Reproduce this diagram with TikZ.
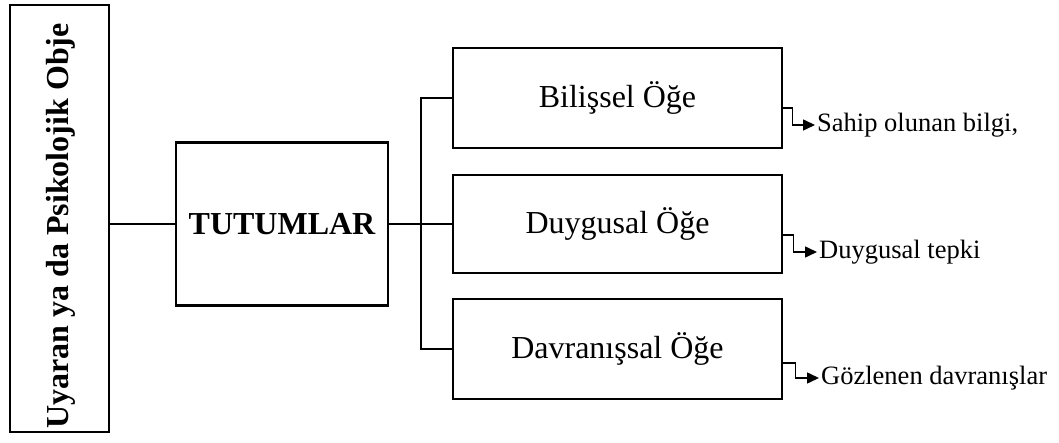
\documentclass[tikz,border=0pt]{standalone}
\usepackage{fontspec}
\setmainfont{Liberation Serif}
\usetikzlibrary{arrows.meta}
\begin{document}
\begin{tikzpicture}[x=1pt,y=-1pt,
  box/.style={draw, line width=2.7pt, rectangle, inner sep=0pt},
  bigtext/.style={font=\fontsize{32}{38}\selectfont},
  bigbold/.style={font=\fontsize{32}{38}\selectfont\bfseries},
  smalltext/.style={font=\fontsize{26.5}{31}\selectfont, anchor=west, inner sep=2pt},
  link/.style={line width=2.7pt},
  pointer/.style={line width=1.5pt, -{Triangle[length=12pt,width=11pt]}}]
\useasboundingbox (0,0) rectangle (1059,443);
% left object box
\node[box, minimum width=99pt, minimum height=427pt] (obj) at (59.5,218.5) {};
\node[bigbold, rotate=90] (objt) at (61,226) {Uyaran ya da Psikolojik Obje};
% TUTUMLAR
\node[box, bigbold, minimum width=212pt, minimum height=163pt] (tut) at (282,224) {TUTUMLAR};
% three component boxes
\node[box, bigtext, minimum width=329pt, minimum height=100pt] (b1) at (617.5,98) {Bilişsel Öğe};
\node[box, bigtext, minimum width=329pt, minimum height=98pt] (b2) at (617.5,224) {Duygusal Öğe};
\node[box, bigtext, minimum width=329pt, minimum height=100pt] (b3) at (617.5,349) {Davranışsal Öğe};
\coordinate (trunk) at (421,0);
% connectors
\draw[link] (tut.west) -- (tut.west -| obj.east);
\draw[link] (tut.east) -- (tut.east -| b2.west);
\draw[link] (b1.west) -- (b1.west -| trunk) -- (b3.west -| trunk) -- (b3.west);
% right labels
\node[smalltext] (t1) at (815,125) {Sahip olunan bilgi,};
\node[smalltext] (t2) at (817,252) {Duygusal tepki};
\node[smalltext] (t3) at (819,378) {Gözlenen davranışlar};
\draw[pointer] ([yshift=-10pt]b1.east) -- ++(9,0) |- (t1.west);
\draw[pointer] ([yshift=-11pt]b2.east) -- ++(10,0) |- (t2.west);
\draw[pointer] ([yshift=-14pt]b3.east) -- ++(12,0) |- (t3.west);
\end{tikzpicture}
\end{document}
